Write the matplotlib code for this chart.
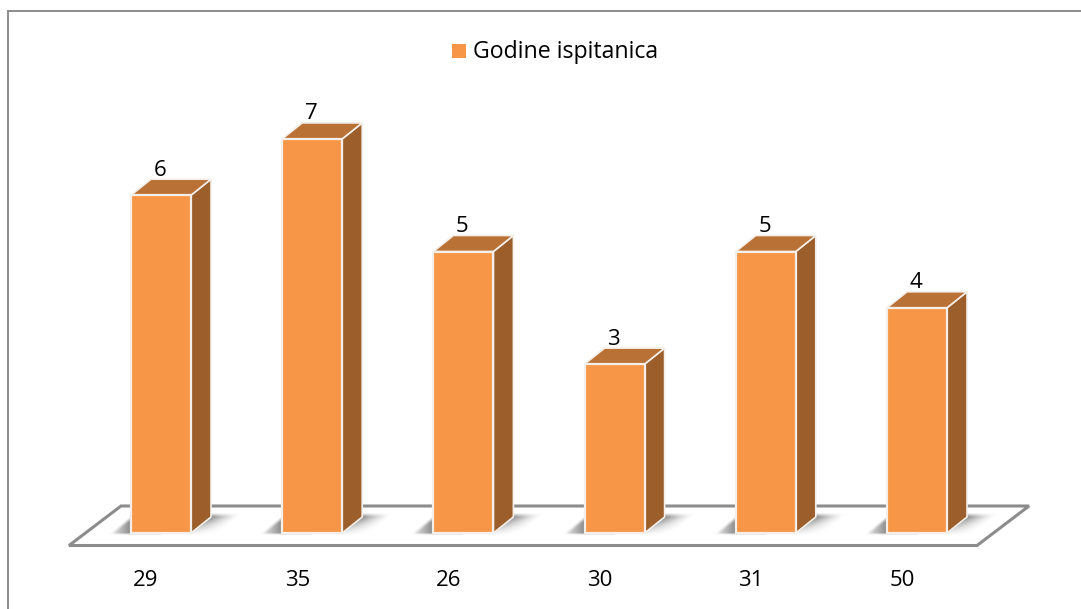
import matplotlib
matplotlib.use("Agg")
import matplotlib.pyplot as plt
import numpy as np
from matplotlib.patches import Polygon, Rectangle

# categories and values
ages = ["29", "35", "26", "30", "31", "50"]
counts = [6, 7, 5, 3, 5, 4]
legend_label = "Godine ispitanica"

W, H = 1081, 609
FRONT = "#F79646"
SIDE = "#9C5F2C"
TOP = "#BA7135"
GREY = "#8C8C8C"

plt.rcParams["font.family"] = ["Open Sans", "DejaVu Sans"]

fig = plt.figure(figsize=(W / 100, H / 100), dpi=100)
ax = fig.add_axes([0, 0, 1, 1])

# scales: x=0 sits at pixel 161, one category is 151.2 px; y=0 at pixel 533, one unit is 56.3 px
PX_X = 1 / 151.2
PX_Y = 1 / 56.3
xlim = (-161 * PX_X, (W - 161) * PX_X)
ylim = (-(H - 533) * PX_Y, 533 * PX_Y)
ax.axis("off")

bar_w = 60 * PX_X
depth_x = 20 * PX_X
depth_y = 16 * PX_Y


def dx(px):
    return px * PX_X


def dy(px):
    return px * PX_Y


# chart border
for xs, ys in [((8, W), (11, 11)), ((8, 8), (11, H))]:
    ax.plot([(x - 161) * PX_X for x in xs], [(533 - y) * PX_Y for y in ys], color=GREY, lw=1.4, zorder=1)

# floor
floor = [(dx(69 - 161), dy(533 - 545.5)), (dx(977 - 161), dy(533 - 545.5)),
         (dx(1029 - 161), dy(533 - 506)), (dx(121 - 161), dy(533 - 506))]
ax.add_patch(Polygon(floor, closed=True, fc="white", ec=GREY, lw=2.2, joinstyle="miter", zorder=2))

# soft shadows on the floor, u is px right of the bar's left edge, v is px above the base + 2
u, v = np.meshgrid(np.arange(-26, 112) + 0.5, np.arange(22, 0, -1) - 0.5)
left_start = -24 + 1.25 * v
left_a = 0.8 * np.clip((u + 24) / 24, 0, 1) * np.clip((u - left_start) / 6, 0, 1) * (u < 30)
side_edge = 60 + 20 * (v - 2) / 16
right_a = 0.8 * np.clip(1 - (u - side_edge) / 28, 0, 1) ** 1.4 * (u >= 30) * np.clip(v / 18, 0.15, 1)
soft = np.clip(v / 2.5, 0, 1) * np.clip((22 - v) / 4, 0, 1)
fade = np.ones(u.shape + (4,))
fade[..., :3] = 0.42
fade[..., 3] = (left_a + right_a) * soft
for i in range(len(counts)):
    left = i - bar_w / 2
    ax.imshow(fade, extent=(left + dx(-26), left + dx(112), dy(-2), dy(20)), aspect="auto",
              zorder=3, interpolation="bilinear")
ax.set_xlim(xlim)
ax.set_ylim(ylim)

# 3d bars
for i, v_ in enumerate(counts):
    l = i - bar_w / 2
    r = i + bar_w / 2
    ax.add_patch(Polygon([(r, 0), (r + depth_x, depth_y), (r + depth_x, v_ + depth_y), (r, v_)],
                         closed=True, fc=SIDE, ec="#F4EFEA", lw=1.2, zorder=4))
    ax.add_patch(Polygon([(l, v_), (r, v_), (r + depth_x, v_ + depth_y), (l + depth_x, v_ + depth_y)],
                         closed=True, fc=TOP, ec="#F4EFEA", lw=1.2, zorder=4))
    ax.add_patch(Rectangle((l, 0), bar_w, v_, fc=FRONT, ec="#F4EFEA", lw=1.6, zorder=5))
    ax.text(i - dx(1), v_ + dy(25), str(v_), ha="center", va="center", fontsize=16, color="black", zorder=6)
    ax.text(i - dx(15), dy(533 - 581), ages[i], ha="center", va="center", fontsize=16, color="black", zorder=6)

# legend
ax.add_patch(Rectangle((dx(452 - 161), dy(533 - 58)), dx(14), dy(14), fc=FRONT, ec="none", zorder=6))
ax.text(dx(473 - 161), dy(533 - 51.5), legend_label, ha="left", va="center", fontsize=16.7, color="black", zorder=6)

fig.savefig("out.png", dpi=100)
